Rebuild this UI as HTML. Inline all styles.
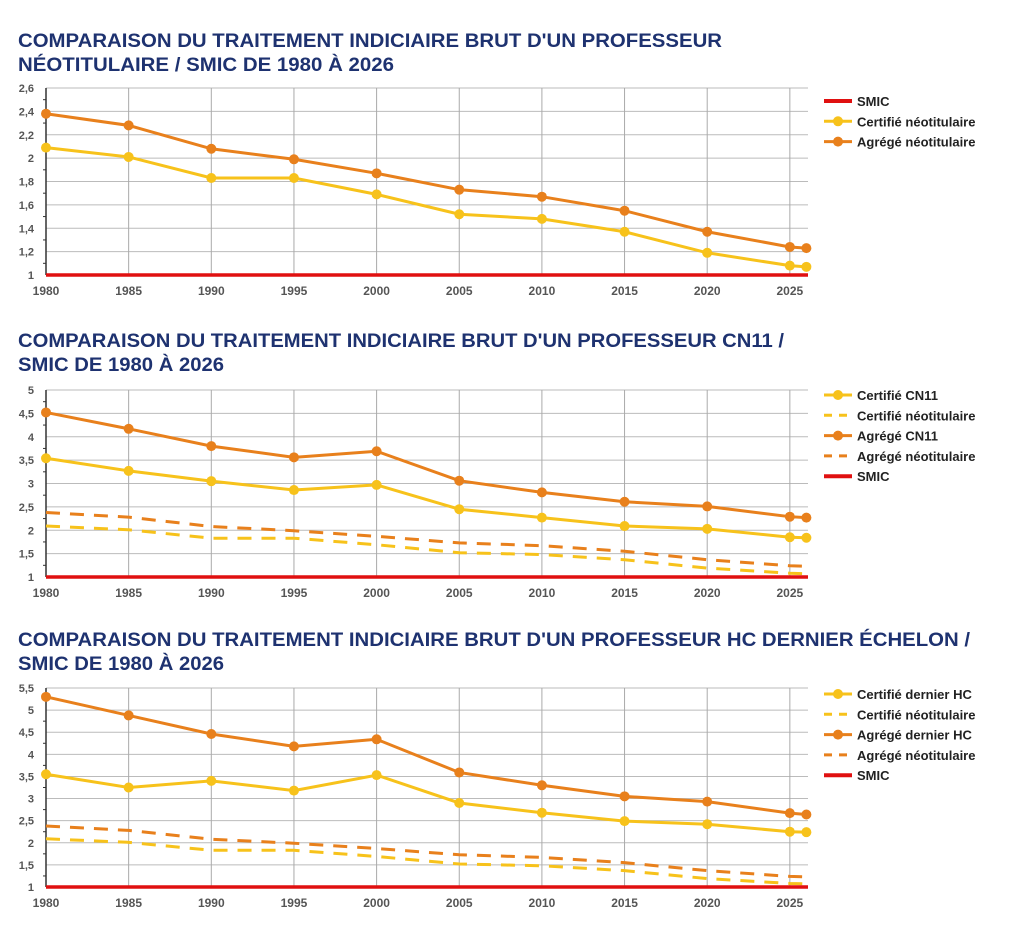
<!DOCTYPE html>
<html><head><meta charset="utf-8"><style>
html,body{margin:0;padding:0;background:#fff;width:1024px;height:941px;overflow:hidden}
svg{display:block;font-family:"Liberation Sans",Arial,sans-serif}
</style></head><body>
<svg id="s" width="1024" height="941" xmlns="http://www.w3.org/2000/svg"></svg>
<script>
const s=document.getElementById('s');let h='';
const X0=46,DX=82.65;const xf=i=>i<10?X0+i*DX:X0+9*DX+DX/5;
function title(y,l1,w1,l2,w2){
 h+=`<text x="18" y="${y}" font-size="19" font-weight="bold" fill="#1e3270" textLength="${w1}" lengthAdjust="spacingAndGlyphs">${l1}</text>`;
 h+=`<text x="18" y="${y+24}" font-size="19" font-weight="bold" fill="#1e3270" textLength="${w2}" lengthAdjust="spacingAndGlyphs">${l2}</text>`;}
function chart(top,bot,ymin,ymax,step,labs,series,legend,ly){
 const yf=v=>bot-(v-ymin)/(ymax-ymin)*(bot-top);
 const n=Math.round((ymax-ymin)/step);
 for(let k=0;k<=n;k++){const v=ymin+k*step,y=yf(v);
  h+=`<line x1="${X0}" x2="808" y1="${y}" y2="${y}" stroke="#bbb" stroke-width="1"/>`;
  h+=`<text x="34" y="${y+4}" font-size="11" font-weight="bold" fill="#555" text-anchor="end">${labs[k]}</text>`;
  if(k<n){const yh=yf(v+step/2);h+=`<line x1="${X0-3}" x2="${X0}" y1="${yh}" y2="${yh}" stroke="#333"/>`;}}
 for(let i=0;i<10;i++){const x=xf(i);
  if(i>0)h+=`<line x1="${x}" x2="${x}" y1="${top}" y2="${bot}" stroke="#aaa"/>`;
  h+=`<text x="${x}" y="${bot+20}" font-size="12" font-weight="bold" fill="#555" text-anchor="middle">${1980+5*i}</text>`;}
 h+=`<line x1="${X0}" x2="${X0}" y1="${top}" y2="${bot}" stroke="#333" stroke-width="1.5"/>`;
 for(const [d,c,dash,dots] of series){
  const pts=d.map((v,i)=>xf(i)+','+yf(v)).join(' ');
  h+=`<polyline points="${pts}" fill="none" stroke="${c}" stroke-width="${dash?3:3}" ${dash?'stroke-dasharray="14,10"':''}/>`;
  if(dots)d.forEach((v,i)=>h+=`<circle cx="${xf(i)}" cy="${yf(v)}" r="5" fill="${c}"/>`);}
 h+=`<line x1="${X0}" x2="808" y1="${bot}" y2="${bot}" stroke="#e01010" stroke-width="3.5"/>`;
 legend.forEach(([t,c,kind],k)=>{const y=ly+k*20.3;
  if(kind=='r')h+=`<line x1="824" x2="852" y1="${y}" y2="${y}" stroke="${c}" stroke-width="4"/>`;
  else if(kind=='d')h+=`<line x1="824" x2="852" y1="${y}" y2="${y}" stroke="${c}" stroke-width="3" stroke-dasharray="8,7"/>`;
  else h+=`<line x1="824" x2="852" y1="${y}" y2="${y}" stroke="${c}" stroke-width="3"/><circle cx="838" cy="${y}" r="5" fill="${c}"/>`;
  h+=`<text x="857" y="${y+5}" font-size="13" font-weight="bold" fill="#222">${t}</text>`;});}
const Y='#f7c21b',O='#e8801c',R='#e01010';
const cn=[2.09,2.01,1.83,1.83,1.69,1.52,1.48,1.37,1.19,1.08,1.07];
const an=[2.38,2.28,2.08,1.99,1.87,1.73,1.67,1.55,1.37,1.24,1.23];
title(47,"COMPARAISON DU TRAITEMENT INDICIAIRE BRUT D'UN PROFESSEUR",704,"NÉOTITULAIRE / SMIC DE 1980 À 2026",376);
chart(88,275,1,2.6,0.2,['1','1,2','1,4','1,6','1,8','2','2,2','2,4','2,6'],[[an,O,0,1],[cn,Y,0,1]],[['SMIC',R,'r'],['Certifié néotitulaire',Y,'m'],['Agrégé néotitulaire',O,'m']],101);
title(347,"COMPARAISON DU TRAITEMENT INDICIAIRE BRUT D'UN PROFESSEUR CN11 /",766,"SMIC DE 1980 À 2026",206);
chart(390,577,1,5,0.5,['1','1,5','2','2,5','3','3,5','4','4,5','5'],[[an,O,1,0],[cn,Y,1,0],[[4.52,4.17,3.80,3.56,3.69,3.06,2.81,2.61,2.51,2.29,2.27],O,0,1],[[3.54,3.27,3.05,2.86,2.97,2.45,2.27,2.09,2.03,1.85,1.84],Y,0,1]],[['Certifié CN11',Y,'m'],['Certifié néotitulaire',Y,'d'],['Agrégé CN11',O,'m'],['Agrégé néotitulaire',O,'d'],['SMIC',R,'r']],395);
title(646,"COMPARAISON DU TRAITEMENT INDICIAIRE BRUT D'UN PROFESSEUR HC DERNIER ÉCHELON /",952,"SMIC DE 1980 À 2026",206);
chart(688,887,1,5.5,0.5,['1','1,5','2','2,5','3','3,5','4','4,5','5','5,5'],[[an,O,1,0],[cn,Y,1,0],[[5.30,4.88,4.46,4.18,4.34,3.59,3.30,3.05,2.93,2.67,2.64],O,0,1],[[3.55,3.25,3.40,3.18,3.53,2.90,2.68,2.49,2.42,2.25,2.24],Y,0,1]],[['Certifié dernier HC',Y,'m'],['Certifié néotitulaire',Y,'d'],['Agrégé dernier HC',O,'m'],['Agrégé néotitulaire',O,'d'],['SMIC',R,'r']],694);
s.innerHTML=h;
</script>
</body></html>
